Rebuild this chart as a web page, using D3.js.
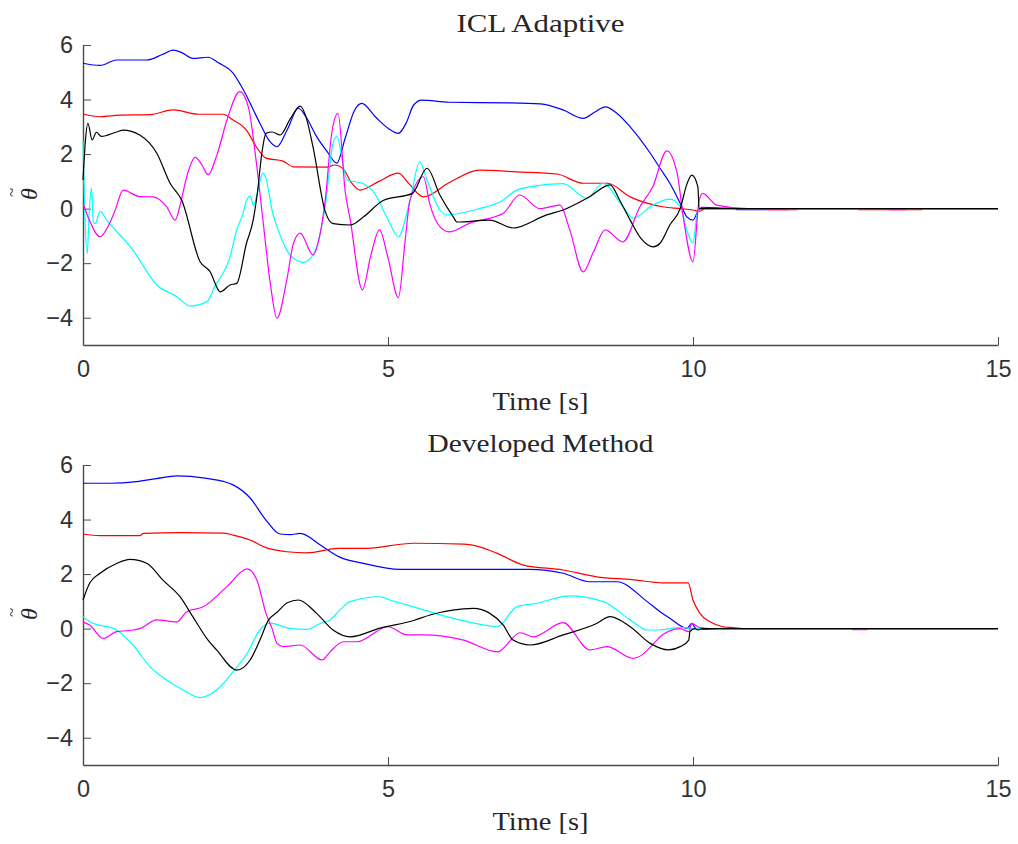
<!DOCTYPE html>
<html>
<head>
<meta charset="utf-8">
<script src="https://cdn.jsdelivr.net/npm/d3@7"></script>
<style>
  body { margin: 0; background: #fff; }
</style>
</head>
<body>
<svg id="fig" width="1018" height="844"></svg>
<script>
// ---- axis ticks and labels ----
const timeTicks = [0, 5, 10, 15];
const thetaTicks = [-4, -2, 0, 2, 4, 6];
const timeDomain = [0, 15];
const thetaDomain = [-5, 6];
const panelTitles = ["ICL Adaptive", "Developed Method"];
const xLabel = "Time [s]";

// ---- parameter estimation error, ICL adaptive law: [time s, error] ----
const iclBlue = [[0,5.33],[0.28,5.25],[0.55,5.45],[1.05,5.45],[1.3,5.65],[1.48,5.81],[1.62,5.72],[1.8,5.51],[2.05,5.55],[2.22,5.35],[2.46,4.97],[2.63,4.35],[2.9,3.13],[3.05,2.5],[3.18,2.27],[3.35,2.9],[3.53,3.68],[3.66,3.35],[3.83,2.64],[4.0,2.1],[4.16,1.67],[4.3,2.6],[4.45,3.6],[4.57,3.86],[4.8,3.35],[5.0,2.95],[5.17,2.76],[5.3,3.15],[5.42,3.8],[5.55,3.98],[6.0,3.9],[7.0,3.88],[7.5,3.84],[7.87,3.62],[8.2,3.31],[8.4,3.55],[8.56,3.73],[8.75,3.5],[8.97,3.0],[9.3,2.03],[9.46,1.48],[9.62,0.93],[9.79,0.2],[9.9,-0.3],[10.0,-0.42],[10.08,-0.1],[10.15,0.05],[10.5,0.02],[10.7,0],[10.72,-0.04],[11.2,-0.04],[11.22,0],[15,0]];
const iclRed = [[0,3.47],[0.28,3.37],[0.6,3.43],[1.1,3.45],[1.48,3.62],[1.9,3.46],[2.3,3.46],[2.46,3.25],[2.68,2.88],[2.84,2.27],[3.0,1.85],[3.28,1.74],[3.45,1.53],[4.0,1.52],[4.12,1.6],[4.27,1.45],[4.4,0.95],[4.54,0.68],[4.85,1.0],[5.17,1.3],[5.35,0.9],[5.58,0.43],[6.0,0.95],[6.5,1.41],[7.1,1.35],[7.77,1.27],[8.2,0.93],[8.6,0.93],[8.97,0.43],[9.5,0.07],[9.8,0.0],[10.0,-0.05],[10.1,-0.1],[10.2,0],[11.2,0],[11.22,-0.04],[11.7,-0.04],[11.72,0],[12.7,0],[12.72,-0.04],[13.75,-0.04],[13.77,0],[15,0]];
const iclCyan = [[0,2.5],[0.03,-0.2],[0.07,-1.65],[0.1,-0.2],[0.14,0.75],[0.17,-0.5],[0.2,-0.55],[0.28,-0.1],[0.39,-0.42],[0.82,-1.52],[1.21,-2.8],[1.54,-3.23],[1.75,-3.57],[2.03,-3.42],[2.16,-2.86],[2.41,-1.77],[2.52,-0.78],[2.62,-0.2],[2.68,0.3],[2.74,0.46],[2.8,0.1],[2.85,0.5],[2.95,1.3],[3.0,1.1],[3.11,-0.17],[3.18,-0.66],[3.34,-1.52],[3.56,-1.95],[3.61,-1.97],[3.77,-1.7],[3.97,0.07],[4.1,2.4],[4.16,2.64],[4.33,1.05],[4.59,0.92],[4.78,0.56],[5.0,-0.4],[5.17,-1.03],[5.36,0.3],[5.52,1.72],[5.64,1.05],[5.85,-0.05],[5.96,-0.23],[6.5,0.0],[6.84,0.25],[7.11,0.68],[7.33,0.8],[7.87,0.92],[8.26,0.38],[8.52,0.93],[8.85,0.07],[9.02,-0.35],[9.34,0.13],[9.62,0.35],[9.79,0.07],[9.9,-0.8],[10.0,-1.27],[10.07,-0.17],[10.15,0],[15,0]];
const iclMagenta = [[0,0.2],[0.1,-0.4],[0.28,-1.03],[0.4,-0.7],[0.52,-0.1],[0.66,0.68],[0.93,0.44],[1.15,0.43],[1.37,0.07],[1.51,-0.42],[1.6,0.2],[1.7,1.17],[1.84,1.88],[1.95,1.6],[2.05,1.24],[2.2,2.0],[2.36,3.25],[2.57,4.29],[2.71,3.73],[2.85,1.54],[2.95,-0.42],[3.07,-2.74],[3.18,-4.02],[3.34,-2.62],[3.45,-1.27],[3.56,-0.9],[3.77,-1.7],[3.88,-1.0],[3.97,0.3],[4.08,2.8],[4.18,3.49],[4.3,0.6],[4.38,-0.4],[4.58,-2.98],[4.72,-1.7],[4.86,-0.78],[5.0,-1.8],[5.17,-3.27],[5.28,-1.2],[5.36,0.3],[5.58,1.17],[5.69,0.13],[5.85,-0.66],[6.0,-0.85],[6.34,-0.53],[6.89,-0.17],[7.16,0.5],[7.49,0.0],[7.82,0.13],[7.98,-0.78],[8.2,-2.32],[8.36,-1.63],[8.56,-0.78],[8.85,-1.22],[9.13,0.07],[9.34,0.8],[9.57,2.12],[9.74,1.3],[9.84,-0.3],[10.0,-1.95],[10.1,0.3],[10.16,0.56],[10.39,0.13],[10.9,0],[11.2,0],[11.22,-0.04],[11.56,-0.04],[11.58,0],[13.2,0],[13.22,-0.04],[13.48,-0.04],[13.5,0],[15,0]];
const iclBlack = [[0,1.05],[0.04,2.5],[0.08,3.13],[0.15,2.52],[0.22,2.8],[0.3,2.65],[0.55,2.81],[0.66,2.88],[0.93,2.7],[1.21,2.03],[1.43,0.92],[1.62,0.3],[1.92,-1.95],[2.08,-2.3],[2.25,-3.05],[2.41,-2.8],[2.52,-2.74],[2.68,-1.27],[2.79,-0.42],[2.86,0.6],[2.93,2.0],[3.0,2.76],[3.1,2.81],[3.23,2.7],[3.4,3.3],[3.56,3.76],[3.65,3.4],[3.77,2.27],[3.97,-0.1],[4.1,-0.55],[4.38,-0.6],[4.6,-0.3],[4.92,0.3],[5.4,0.56],[5.64,1.48],[5.85,0.5],[6.07,-0.3],[6.13,-0.49],[6.67,-0.42],[7.05,-0.71],[7.6,-0.23],[7.87,-0.05],[8.3,0.43],[8.64,0.87],[8.8,0.3],[8.97,-0.42],[9.15,-1.1],[9.35,-1.4],[9.46,-1.27],[9.62,-0.6],[9.79,0],[9.9,0.9],[9.98,1.23],[10.08,0.8],[10.1,0],[15,0]];

// ---- parameter estimation error, developed method ----
const devBlue = [[0,5.33],[0.44,5.33],[0.88,5.39],[1.2,5.5],[1.54,5.6],[2.03,5.51],[2.3,5.4],[2.46,5.27],[2.74,4.79],[3.0,3.98],[3.23,3.47],[3.4,3.45],[3.56,3.49],[3.89,3.07],[4.19,2.64],[4.6,2.39],[5.2,2.17],[7.33,2.17],[7.87,2.03],[8.31,1.72],[8.75,1.72],[9.25,0.99],[9.46,0.62],[9.62,0.38],[9.9,0.01],[9.98,0.19],[10.05,0.0],[10.2,-0.03],[10.4,0],[15,0]];
const devRed = [[0,3.47],[0.28,3.41],[0.93,3.41],[0.99,3.49],[1.6,3.52],[2.3,3.5],[2.46,3.43],[2.74,3.25],[3.0,2.97],[3.34,2.82],[3.67,2.78],[4.19,2.94],[4.6,2.94],[5.42,3.13],[6.24,3.1],[6.5,3.0],[6.79,2.76],[7.22,2.33],[7.87,2.15],[8.42,1.9],[9.0,1.8],[9.51,1.68],[9.92,1.68],[10.0,1.05],[10.11,0.57],[10.28,0.25],[10.49,0.07],[10.69,0.03],[10.8,0],[15,0]];
const devCyan = [[0,0.44],[0.11,0.25],[0.55,-0.05],[0.82,-0.6],[1.1,-1.4],[1.37,-1.88],[1.64,-2.25],[1.92,-2.53],[2.19,-2.25],[2.46,-1.58],[2.69,-0.91],[2.9,-0.05],[3.07,0.2],[3.39,0.01],[3.67,-0.03],[3.89,0.19],[4.05,0.32],[4.21,0.68],[4.38,0.99],[4.87,1.17],[5.03,1.05],[5.42,0.8],[5.96,0.44],[6.67,0.1],[6.79,0.07],[7.11,0.8],[7.44,0.93],[7.98,1.2],[8.53,0.99],[8.97,0.32],[9.25,-0.05],[9.46,-0.05],[9.62,0.0],[9.79,0.05],[9.98,0.0],[15,0]];
const devMagenta = [[0,0.25],[0.11,0.13],[0.33,-0.36],[0.55,-0.11],[0.82,-0.05],[0.93,0.0],[1.21,0.32],[1.54,0.25],[1.7,0.62],[1.97,0.8],[2.36,1.54],[2.69,2.19],[2.85,1.78],[3.0,0.56],[3.1,0.0],[3.18,-0.54],[3.28,-0.66],[3.56,-0.6],[3.92,-1.15],[4.05,-0.85],[4.27,-0.48],[4.49,-0.48],[5.0,0.07],[5.31,-0.23],[5.58,-0.23],[6.24,-0.42],[6.79,-0.85],[7.17,-0.15],[7.38,-0.3],[7.87,0.22],[8.31,-0.78],[8.59,-0.66],[9.02,-1.09],[9.41,-0.42],[9.46,-0.3],[9.79,0],[9.93,-0.11],[9.98,0.19],[10.1,0.05],[10.3,0],[12.6,0],[12.62,-0.04],[12.85,-0.04],[12.87,0],[15,0]];
const devBlack = [[0,1.05],[0.11,1.67],[0.28,2.03],[0.55,2.39],[0.77,2.54],[1.05,2.39],[1.31,1.78],[1.59,1.17],[1.8,0.44],[2.05,-0.42],[2.19,-0.78],[2.52,-1.52],[2.74,-1.15],[2.9,-0.42],[3.04,0.31],[3.18,0.6],[3.35,0.95],[3.53,1.05],[3.83,0.56],[4.1,-0.05],[4.38,-0.3],[4.87,0.02],[5.42,0.3],[5.69,0.5],[6.4,0.74],[6.67,0.56],[6.89,0.13],[7.05,-0.42],[7.33,-0.6],[7.87,-0.23],[8.42,0.19],[8.64,0.44],[8.97,0.07],[9.3,-0.54],[9.6,-0.78],[9.79,-0.66],[9.93,-0.42],[9.95,-0.11],[10.03,0.0],[10.08,-0.05],[10.15,0],[15,0]];

const seriesColors = ["#0000ff", "#ff0000", "#00ffff", "#ff00ff", "#000000"];

// ---- layout ----
const svg = d3.select("#fig");
const plotLeft = 83, plotRight = 998;
const panels = [
  { title: panelTitles[0], top: 45, bottom: 345, series: [iclBlue, iclRed, iclCyan, iclMagenta, iclBlack] },
  { title: panelTitles[1], top: 465, bottom: 765, series: [devBlue, devRed, devCyan, devMagenta, devBlack] }
];

const axisColor = "#4a4a4a";
const textColor = "#262626";
const tickFont = "'Liberation Sans', Arial, Helvetica, sans-serif";
const serifFont = "'Liberation Serif', 'Times New Roman', serif";

const x = d3.scaleLinear().domain(timeDomain).range([plotLeft, plotRight]);

panels.forEach((p, i) => {
  const y = d3.scaleLinear().domain(thetaDomain).range([p.bottom, p.top]);
  const g = svg.append("g").attr("class", "panel-" + i);

  // x axis (ticks pointing inward)
  const xAxis = g.append("g")
    .attr("transform", `translate(0,${p.bottom})`)
    .call(d3.axisBottom(x).tickValues(timeTicks).tickSizeInner(-8).tickSizeOuter(0)
      .tickPadding(15).tickFormat(d3.format("d")));
  // y axis
  const yAxis = g.append("g")
    .attr("transform", `translate(${plotLeft},0)`)
    .call(d3.axisLeft(y).tickValues(thetaTicks).tickSizeInner(-8).tickSizeOuter(0)
      .tickPadding(10).tickFormat(d3.format("d")));

  [xAxis, yAxis].forEach(a => {
    a.attr("font-family", tickFont).attr("font-size", 23.5).attr("color", axisColor);
    a.selectAll("text").attr("fill", "#333333");
    a.select(".domain").attr("stroke-width", 1.4);
    a.selectAll(".tick line").attr("stroke-width", 1);
  });

  // data lines
  const line = d3.line()
    .x(d => x(d[0]))
    .y(d => y(d[1]))
    .curve(d3.curveMonotoneX);

  p.series.forEach((s, k) => {
    g.append("path")
      .datum(s)
      .attr("d", line)
      .attr("fill", "none")
      .attr("stroke", seriesColors[k])
      .attr("stroke-width", 1.2)
      .attr("stroke-linejoin", "round");
  });

  // title
  const cx = (plotLeft + plotRight) / 2;
  g.append("text")
    .attr("x", cx).attr("y", p.top - 13)
    .attr("text-anchor", "middle")
    .attr("font-family", serifFont).attr("font-size", 26)
    .attr("fill", textColor)
    .attr("textLength", i === 0 ? 168 : 226)
    .attr("lengthAdjust", "spacingAndGlyphs")
    .text(p.title);

  // x label
  g.append("text")
    .attr("x", cx).attr("y", p.bottom + 65)
    .attr("text-anchor", "middle")
    .attr("font-family", serifFont).attr("font-size", 26)
    .attr("fill", textColor)
    .attr("textLength", 96)
    .attr("lengthAdjust", "spacingAndGlyphs")
    .text(xLabel);

  // y label: theta with tilde accent, rotated
  const cy = (p.top + p.bottom) / 2 - 1;
  const yl = g.append("g").attr("transform", `translate(37,${cy}) rotate(-90)`);
  yl.append("text")
    .attr("x", 0).attr("y", 0)
    .attr("text-anchor", "middle")
    .attr("font-family", serifFont).attr("font-style", "italic").attr("font-size", 24)
    .attr("fill", textColor)
    .text("θ");
  yl.append("text")
    .attr("x", 1.5).attr("y", -20)
    .attr("text-anchor", "middle")
    .attr("font-family", serifFont).attr("font-size", 17)
    .attr("fill", textColor)
    .text("~");
});
</script>
</body>
</html>
